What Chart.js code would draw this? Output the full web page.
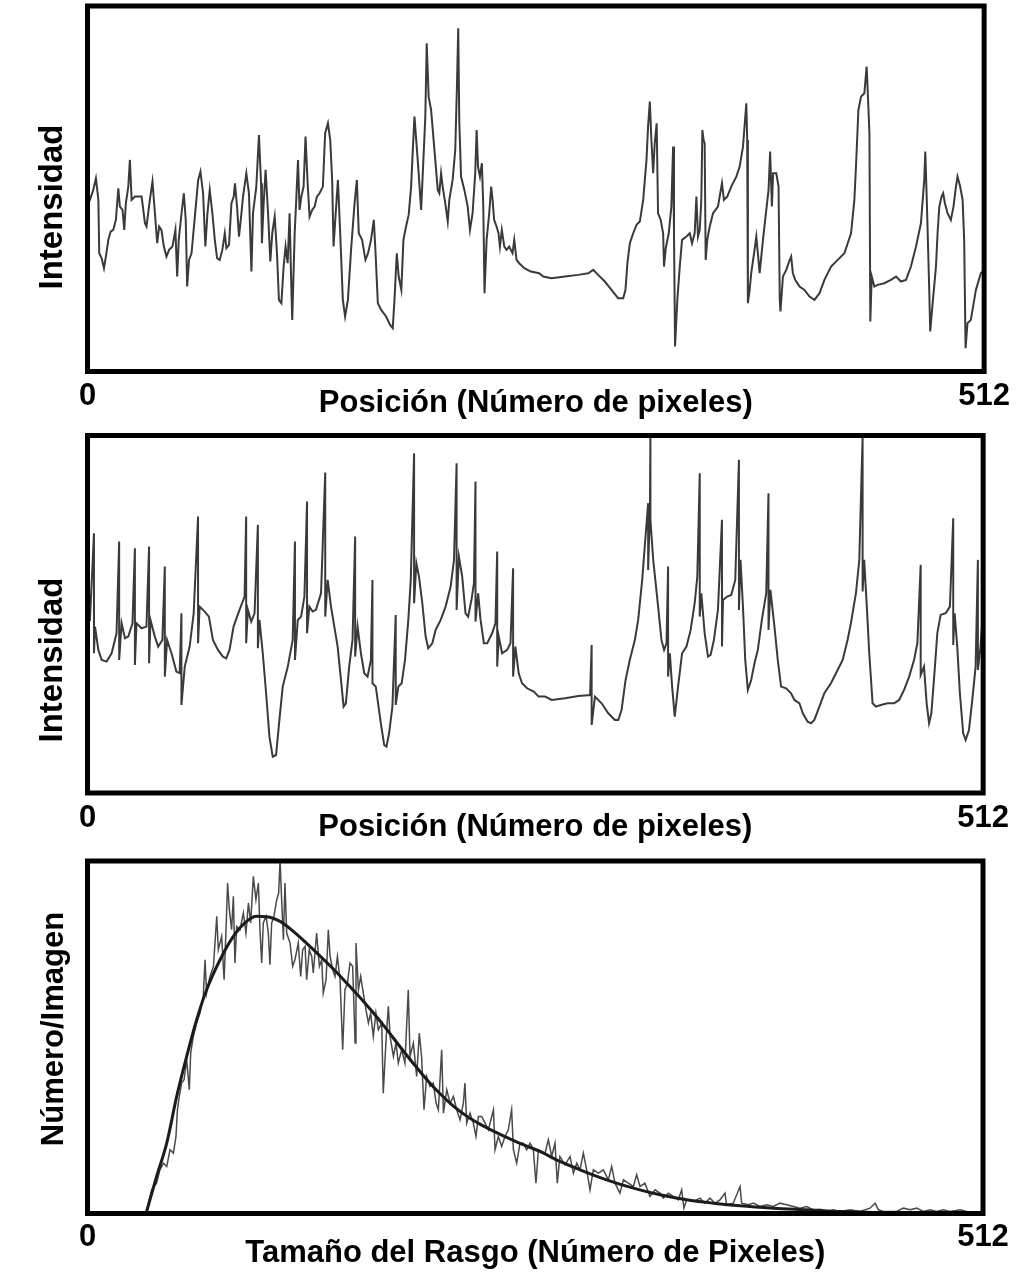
<!DOCTYPE html>
<html>
<head>
<meta charset="utf-8">
<title>Perfiles de intensidad</title>
<script src="https://cdn.jsdelivr.net/npm/chart.js@4.4.1/dist/chart.umd.min.js"></script>
<style>
  html, body { margin: 0; padding: 0; background: #fff; }
  #wrap { position: relative; width: 1016px; height: 1272px; overflow: hidden; }
  #wrap canvas { position: absolute; left: 0; }
</style>
</head>
<body>
<div id="wrap">
  <canvas id="profileTop" width="1016" height="425" style="top:0"></canvas>
  <canvas id="profileMid" width="1016" height="425" style="top:425px"></canvas>
  <canvas id="sizeHist" width="1016" height="422" style="top:850px"></canvas>
</div>
<script>
// x ticks shown on every panel (pixel index range)
const xTicks = [0, 512];

// [position, intensity] – first line profile
const profileA = [
  [0,50],[1.4,51.5],[3.3,54.5],[4.8,58],[6.2,51.5],[6.7,35.5],[8.1,34],[9.4,31],[10.5,34.5],[11.9,39.5],
  [13.2,42],[14.7,42.5],[16.2,45.5],[17.6,55],[18.5,49.5],[20,48.5],[21,42.5],[21.9,50.5],[23.3,55.5],[24.2,63.5],
  [25.2,51.5],[27.1,52.5],[30.9,52.5],[32.8,44.5],[33.7,43.5],[35.6,51.5],[37.1,57],[38.5,47.5],[39.8,38.5],[40.9,43.5],
  [42.2,42.5],[43.6,37.5],[45.1,34.5],[46.6,36.5],[48.5,37.5],[50.2,42.5],[51.2,28.5],[52.1,39.5],[53.7,47.5],[55,53.5],
  [56.1,45.5],[56.9,25.5],[58,33.5],[59.4,35.5],[61.3,46.5],[63.2,57.5],[64.5,60],[66,53.5],[67.3,37.5],[68.5,47.5],
  [69.8,54.5],[71.3,47.5],[72.7,39.5],[74,34],[75.5,33.5],[77,36.5],[78.4,41.5],[79.3,37],[80.8,38],[82.2,50.5],
  [83.5,52.5],[84.2,56.5],[85.4,49.5],[86.5,40.5],[87.9,47.5],[88.8,52.5],[90.7,59.5],[92.2,53.5],[93.6,30],[94.5,47.5],
  [96.4,55.5],[97.9,71],[99.1,56.5],[99.6,38.5],[100.6,50.5],[101.7,60.5],[103.1,47.5],[104.4,33],[105.5,41.5],[106.9,46.5],
  [108.2,35.5],[109.3,21.5],[110.7,20.5],[112,31.5],[113.1,37.5],[114.3,32.5],[115.4,47.5],[116.2,29.5],[116.9,15.5],[118.3,41.5],
  [119.2,51.5],[120.2,63.5],[121.1,48.5],[122.1,52.5],[123.4,55.5],[124.5,70.5],[125.7,56.5],[126.8,46.5],[128.3,48.5],[129.7,49.5],
  [131,52.5],[132.5,53.5],[134.4,55.5],[135.7,71.5],[137.3,74.5],[138.6,69.5],[139.7,57.5],[140.5,37.5],[141.6,46.5],[143,57.5],
  [144.3,41.5],[145.8,21.5],[147.1,16.5],[148.7,21.5],[150.5,36.5],[152.5,50.5],[153.8,57.5],[154.9,41.5],[156.8,39.5],[158.7,33.5],
  [160.2,35.5],[161.9,39.5],[163.5,45.5],[164.4,36.5],[165.8,20.5],[167.7,18.5],[170.5,16.5],[172.8,14],[174.3,13],[175.3,21.5],
  [176.6,35.5],[177.7,28.5],[179.2,24.5],[180.4,39.5],[181.9,43.5],[183.4,47],[184.8,55.5],[185.7,66],[186.7,76.5],[188,67.5],
  [189.1,59.5],[190.5,48.5],[191.8,63.5],[192.9,76.5],[193.7,98.5],[194.8,82.5],[196.2,78.5],[198.1,66.5],[200,54.5],[200.9,53.5],
  [201.9,59.5],[202.8,55.5],[204.3,50.5],[205.7,45],[206.6,51.5],[208.5,57.5],[210,66.5],[211,86.5],[211.7,103],[212.3,75],
  [213.3,58.5],[215.2,54.5],[217.1,49.5],[218.4,42.5],[219.9,47.5],[221.4,59.5],[222.2,72.5],[223,61.5],[224.1,58.5],[225.2,62.5],
  [226,49.5],[226.7,23.5],[227.9,39.5],[229.4,47.5],[230.5,55.5],[231.3,51.5],[232.2,45.5],[233.6,43.5],[234.7,41.5],[235.5,37.5],
  [236.6,42.5],[238,37.5],[239.3,36.5],[240.8,37.5],[242.7,35.5],[243.7,39.5],[245,33.5],[246.5,32.5],[249.4,31],[253.2,30],
  [257.9,29.5],[260.3,28.5],[265,28],[272.6,28.5],[280.2,29],[285.9,29.5],[288.8,30.5],[291.6,29],[295.4,27],[299.2,24.5],
  [303,22],[305.9,22],[307.2,24.5],[308.3,32.5],[309.7,38.5],[311.6,41.5],[313.5,44],[315.4,45],[317.3,51.5],[319.2,63.5],
  [320.1,73.5],[321.1,81],[322,69.5],[323,59.5],[323.9,68.5],[325,74.5],[325.8,47.5],[327.3,45.5],[328.7,41.5],[329.2,31.5],
  [330.2,37],[331.9,41.5],[333.4,49.5],[334.4,67.5],[334.9,41.5],[335.5,7.5],[336.8,21.5],[338.2,31.5],[339.5,39.5],[342,40.5],
  [343.9,41.5],[345.2,38.5],[346.7,41.5],[347.7,52.5],[348.6,40.5],[349.6,42.5],[350.5,51.5],[351.1,72.5],[351.8,69.5],[352.4,68.5],
  [353,33.5],[353.9,39.5],[355.3,43.5],[357.2,47.5],[360,49.5],[362.3,56.5],[363.4,51.5],[365.3,52.5],[367.6,55.5],[370.5,58.5],
  [372.4,61.5],[374.3,67.5],[376.2,80.5],[376.7,69.5],[377.1,20.5],[378.1,24.5],[379,29.5],[380.9,36.5],[381.9,40.5],[382.8,35.5],
  [383.8,29.5],[385.7,39.5],[387.6,48.5],[388.9,54.5],[389.8,66],[390.8,49.5],[391.5,59.5],[393.3,59.5],[394.6,55.5],[395.3,21.5],
  [395.7,18],[397.1,28.5],[399,30.5],[400.3,32.5],[401.8,34.5],[402.8,29.5],[404.1,27.5],[406.6,25.5],[409.4,24.5],[412.3,22.5],
  [415.1,21.5],[418,23.5],[420.8,27.5],[424.6,31.5],[428.4,33.5],[432.2,35.5],[436,41.5],[437.9,51.5],[438.9,62.5],[440.2,78.5],
  [441.7,82.5],[443.6,83.5],[444.9,91.5],[445.5,84.5],[446.5,71.5],[447,15],[447.8,28.5],[449.3,25.5],[451.2,26],[455,26.5],
  [458.8,27.5],[461.7,28.5],[464.5,27],[467.4,27.5],[470.2,31.5],[473.1,37.5],[475.9,44.5],[477.8,57.5],[478.4,66],[479.3,50.5],
  [480.7,23.5],[481.2,12],[482.6,20.5],[484.5,31.5],[485.4,41.5],[486.4,49.5],[487.7,52.5],[488.6,53.5],[489.6,50.5],[491.1,47.5],
  [493,45.5],[494.5,49.5],[495.9,55.5],[496.8,58.5],[498.3,55.5],[499.7,51.5],[500.6,39.5],[501.4,7],[502.5,14.5],[504.4,15.5],
  [507.3,24.5],[510.1,29.5],[512,30.5]
];

// [position, intensity] – second line profile (spikes are a top/bottom pair at one position)
const profileB = [
  [0,52],[1.4,51.9],[3.7,77.9],[3.7,41.9],[4.3,49.9],[6.2,42.9],[8.1,39.9],[10.9,39.4],[13.8,41.9],[16.6,47.9],
  [18.1,75.4],[18.1,39.9],[19.5,50.9],[21.4,46.4],[23.3,46.9],[25.7,50.9],[27.1,73.4],[27.1,38.4],[28,50.9],[30.9,49.4],
  [33.7,49.9],[35.2,73.9],[35.2,38.9],[36,51.9],[38.5,46.9],[40.4,43.9],[42.8,45.9],[44.2,67.9],[44.2,34.9],[45.5,45.9],
  [48,41.9],[50.8,36.4],[52.7,35.9],[53.7,53.9],[53.7,26.4],[55.6,37.9],[58.4,43.9],[60.7,53.9],[63.2,82.9],[63.2,44.9],
  [64.1,55.9],[67,54.4],[69.4,52.9],[71.7,45.9],[74.6,42.9],[77.4,40.9],[79.3,40.4],[81.2,42.9],[83.5,49.9],[86.9,54.9],
  [89.8,58.9],[90.7,82.9],[90.7,44.9],[91.7,54.9],[93.6,51.4],[95.5,53.9],[97.4,80.4],[97.4,43.4],[98.3,51.9],[100.2,41.9],
  [102.1,29.9],[104,16.9],[105.9,10.9],[107.8,11.4],[109.7,21.9],[111.6,31.9],[114.5,37.9],[117.3,45.9],[118.6,75.4],[118.6,39.9],
  [120.2,51.9],[122.1,52.9],[124,58.9],[125.5,87.4],[125.5,47.9],[126.8,55.9],[128.7,54.4],[130.6,54.9],[133.5,59.9],[135.9,96.1],
  [135.9,52.9],[137.3,63.9],[139.2,55.9],[141.1,49.9],[143,43.9],[144.9,33.9],[146.4,25.9],[147.7,26.9],[149.6,37.9],[151.5,45.9],
  [153,76.9],[153,40.9],[154.4,49.9],[156.3,41.9],[158.2,35.9],[160.1,34.9],[162,39.9],[162.9,63.9],[162.9,32.9],[164.8,31.9],
  [167.7,20.9],[169.6,14.4],[170.9,13.9],[172.4,17.9],[174.3,25.9],[176.2,53.4],[176.2,26.4],[177.7,31.9],[179.6,32.9],[181.5,39.9],
  [183.4,51.9],[184.8,63.9],[186.7,101.9],[186.7,56.9],[188,68.9],[189.5,64.9],[191.4,56.9],[193.3,46.9],[194.8,43.4],[197.1,44.9],
  [199,48.9],[201.9,51.9],[204.7,55.9],[207.6,61.9],[209.5,69.9],[211,98.9],[211,54.9],[212.3,70.9],[214.2,64.9],[216.1,53.9],
  [217.6,52.9],[219.5,57.9],[220.9,62.9],[221.8,93.4],[221.8,51.4],[223.3,59.9],[224.7,51.9],[226.6,44.9],[228.5,44.9],[231.3,47.9],
  [233.2,50.9],[234.2,72.4],[234.2,37.9],[235.1,46.9],[237,41.9],[239.9,42.9],[241.8,44.9],[243.3,67.4],[243.3,34.9],[244.6,43.9],
  [246.5,35.9],[248.4,32.9],[251.3,31.4],[255.1,30.4],[257.9,28.9],[261.6,28.9],[265.4,27.9],[273,28.4],[280.6,29.1],[287.3,29.4],
  [288.2,44.4],[288.2,20.4],[290.1,28.9],[293.9,26.9],[297.7,23.9],[301.5,21.9],[303.4,21.9],[305.3,24.9],[307.6,33.9],[310,39.9],
  [312.9,45.9],[314.8,51.9],[317.1,63.9],[319,76.9],[320.5,86.9],[320.5,66.9],[321.5,84.9],[321.8,107],[321.8,81.9],[323.4,69.9],
  [326.2,55.9],[328.1,45.9],[329.6,42.9],[331,44.9],[331.9,67.9],[331.9,34.9],[332.9,41.9],[334.2,31.9],[335.7,22.9],[337.6,31.9],
  [339.9,41.9],[342.4,43.9],[344.8,48.9],[347.1,56.9],[348.6,64.9],[350,95.9],[350,52.9],[350.9,59.9],[352.8,47.9],[354.7,40.9],
  [356.2,41.4],[358.1,45.9],[360.4,54.9],[362.7,81.9],[362.7,43.9],[363.3,57.9],[365.7,58.9],[368,59.4],[370.3,63.9],[372.4,99.9],
  [372.4,54.9],[373.3,69.9],[374.7,55.9],[376,39.9],[377.5,30.9],[379.4,33.9],[381.3,38.9],[383.2,42.9],[385.5,51.9],[388,59.9],
  [389.3,89.9],[389.3,48.9],[390.4,60.9],[392.7,49.9],[394.6,39.9],[396.5,31.9],[399.4,31.4],[402.2,29.9],[404.1,27.9],[407,26.9],
  [408.9,23.9],[411.7,21.4],[413.6,20.9],[415.5,21.9],[418.4,25.9],[421.2,29.9],[425,32.9],[428.8,36.9],[431.7,39.9],[434.5,45.9],
  [436.4,50.9],[439.3,59.9],[441.2,69.9],[443.1,107],[443.1,60.4],[444,69.9],[445.5,55.9],[446.9,41.9],[448.8,26.9],[450.7,25.9],
  [453.5,26.4],[457.3,26.9],[461.1,26.9],[464,27.9],[466.8,30.9],[469.7,34.9],[472.5,39.9],[474.4,44.9],[476.3,68.4],[476.3,35.4],
  [478.2,37.9],[479.7,26.9],[481.1,20.9],[482.4,23.9],[484.3,36.9],[485.8,47.9],[487.7,53.4],[490.6,53.9],[493,55.9],[494.9,82.4],
  [494.9,44.4],[495.7,53.9],[497.2,43.9],[498.7,29.9],[500.6,17.9],[502,15.9],[503.9,18.9],[505.8,27.9],[507.7,37.9],[509,69.9],
  [509,36.9],[510.5,43.9],[512,55]
];

// [feature size, count per image] – measured histogram
const sizeCounts = [
  [33.8,0.6],[36.7,7.1],[39.5,9.1],[41.4,13.1],[43.4,15.1],[45.3,14.1],[47.2,19.1],[49.1,18.1],[50.6,23.1],[51.4,31.1],
  [52.5,35.1],[53.8,39.1],[55.2,40.1],[56.7,46.1],[58.2,37.1],[59,48.1],[60.5,53.1],[62.4,57.1],[64.3,60.1],[66.2,65.1],
  [67.2,76.1],[68.1,66.1],[70,71.1],[72,74.1],[73.9,89.1],[74.8,79.1],[76.7,83.1],[78.1,70.1],[79.2,85.1],[80.1,99.1],
  [81.1,91.1],[82.4,85.1],[83.4,95.1],[84.3,75.1],[85.3,86.1],[87.2,85.1],[89.1,90.1],[90.6,84.1],[92,93.1],[93.3,87.1],
  [94.8,101.1],[96.3,94.1],[97.7,99.1],[98.6,85.1],[99.6,75.1],[100.5,87.1],[102.1,89.1],[103.4,84.1],[104.3,74.6],[105.3,87.1],
  [106.6,89.1],[108.2,94.1],[109.3,96.1],[110.1,106],[111,94.1],[112,82.1],[112.9,99.1],[113.9,84.1],[115.8,81.1],[117.3,74.1],
  [118.6,76.1],[120.5,81.1],[121.9,71.1],[123,79.1],[124.4,80.1],[125.3,70.1],[126.8,79.1],[128.2,77.1],[129.1,72.1],[131,84.1],
  [132.6,74.1],[133.9,76.1],[134.8,66.1],[136.4,70.1],[137.7,85.1],[138.7,77.1],[140.2,73.1],[141.5,71.1],[142.9,77.1],[144.4,70.1],
  [145.9,49.1],[147.2,67.1],[148.6,69.1],[150.1,75.1],[151.6,74.1],[153,51.1],[153.5,81.1],[154.9,67.1],[156.2,71.1],[157.7,66.1],
  [159.2,61.1],[160.6,57.1],[161.9,60.1],[163.4,53.1],[164.9,60.1],[166.3,55.1],[168.2,57.1],[169.1,36.1],[170.7,52.1],[172,62.1],
  [173,53.1],[174.9,47.1],[176.4,51.1],[177.7,45.1],[179.6,49.1],[181.5,45.1],[183.4,67.1],[184.4,47.1],[186.3,51.1],[188.2,41.1],
  [189.7,54.1],[191,47.1],[192.4,31.1],[193.9,41.1],[195.8,38.1],[197.7,39.1],[199.3,33.1],[200.6,31.1],[202.5,49.1],[203.5,30.1],
  [205.4,37.1],[207.3,33.1],[209.2,35.1],[211.1,31.1],[213,28.1],[214.9,33.1],[215.8,39.1],[216.8,27.1],[218.7,30.1],[220.6,27.1],
  [222.1,23.1],[223.5,29.1],[225.4,29.1],[227.3,27.1],[229.2,25.1],[232.1,31.1],[233,19.1],[234.9,23.1],[236.8,20.1],[238.7,23.1],
  [240.6,25.1],[242.5,31.1],[243.5,19.1],[245.4,15.1],[247.3,21.1],[249.2,21.1],[251.1,19.1],[253,21.1],[254.9,19.1],[256.4,9.1],
  [257.8,19.1],[261.6,18.1],[263.5,22.1],[265.4,17.1],[267.3,21.1],[268.6,9.1],[270.1,17.1],[273,14.6],[275.9,17.1],[277.8,12.1],
  [279.7,15.1],[281.6,13.1],[283.5,18.1],[285.4,13.1],[287.3,7.1],[289.2,13.1],[292.1,12.1],[294.9,13.1],[297.8,10.1],[299.7,14.1],
  [301.6,9.1],[304.4,6.1],[306.4,10.1],[309.2,9.1],[312.1,8.1],[314,11.6],[315.9,8.1],[318.7,9.1],[321.6,5.1],[324.5,7.1],
  [327.3,6.1],[329.2,4.6],[332.1,6.1],[334.9,5.1],[337.8,4.1],[339.7,7.1],[341,1.6],[342.6,4.1],[346.4,3.6],[350.2,4.6],
  [353,3.1],[355.9,4.6],[358.8,3.1],[361.6,4.1],[364.5,6.1],[365.4,2.6],[369.2,3.1],[373.1,8.1],[374,3.1],[377.8,2.6],
  [380.7,3.1],[384.5,2.1],[388.3,2.6],[392.1,2.1],[395.9,3.1],[399.7,2.6],[403.6,2.1],[407.4,1.6],[411.2,2.1],[415,1.1],
  [418.8,1.3],[422.6,0.6],[426.4,1.1],[430.2,0.6],[436,1.1],[441.7,0.6],[447.4,1.6],[450.3,3.1],[452.2,1.1],[455,0.6],
  [458.8,0.6],[462.6,0.6],[466.5,1.6],[470.3,1.1],[474.1,1.6],[477.9,0.6],[481.7,1.1],[485.5,0.6],[489.3,1.1],[493.1,0.6],
  [498.9,1.1],[502.7,0.6]
];

// [feature size, count per image] – fitted distribution
const sizeFit = [
  [33.8,0.6],[39.5,11.1],[45.3,21.1],[51,35.1],[56.7,47.1],[62.4,58.1],[68.1,67.1],[75.8,76.1],[83.4,83.1],[91,87.6],
  [96.7,89.1],[102.4,89.0],[110.1,87.6],[117.7,84.6],[125.3,81.0],[133,77.2],[140.6,73.3],[148.2,69.1],[155.8,64.8],[163.4,60.2],
  [171.1,55.2],[178.7,50.0],[186.3,45.0],[193.9,40.2],[201.6,35.9],[209.2,32.2],[216.8,29.2],[224.4,26.8],[232.1,24.7],[239.7,22.8],
  [247.3,21.0],[258.7,18.6],[270.1,15.6],[281.6,13.1],[296.8,10.1],[312.1,7.6],[327.3,5.6],[342.6,4.1],[357.8,3.1],[373.1,2.3],
  [392.1,1.6],[411.2,1.1],[430.2,0.6],[449.3,0.3],[468.4,0.2],[504.6,0.1]
];

const labelFont = { family: '"Liberation Sans", Arial, sans-serif', size: 31, weight: 'bold' };

const toPoints = rows => rows.map(([x, y]) => ({ x, y }));

// thick black box around the plot area
const frame = {
  id: 'frame',
  afterDatasetsDraw(chart) {
    const { ctx, chartArea: a } = chart;
    ctx.save();
    ctx.lineWidth = 5;
    ctx.strokeStyle = '#000';
    ctx.strokeRect(a.left, a.top, a.right - a.left, a.bottom - a.top);
    ctx.restore();
  }
};

// rotated y title, placed freely in the left margin
const yLabel = {
  id: 'yLabel',
  afterDraw(chart, args, opts) {
    const ctx = chart.ctx;
    ctx.save();
    ctx.translate(opts.x, opts.y);
    ctx.rotate(-Math.PI / 2);
    ctx.font = `bold ${opts.size}px "Liberation Sans", Arial, sans-serif`;
    ctx.fillStyle = '#000';
    ctx.textAlign = 'center';
    ctx.textBaseline = 'middle';
    ctx.fillText(opts.text, 0, 0);
    ctx.restore();
  }
};

function makePanel(id, cfg) {
  return new Chart(document.getElementById(id), {
    type: 'line',
    data: { datasets: cfg.datasets },
    options: {
      responsive: false,
      animation: false,
      devicePixelRatio: 1,
      layout: { padding: cfg.padding },
      elements: { point: { radius: 0 }, line: { tension: 0 } },
      plugins: {
        legend: { display: false },
        tooltip: { enabled: false },
        yLabel: cfg.yTitle
      },
      scales: {
        x: {
          type: 'linear',
          min: 0,
          max: 512,
          grid: { display: false, drawTicks: false },
          border: { display: false },
          afterBuildTicks: s => { s.ticks = xTicks.map(v => ({ value: v })); },
          afterFit: s => { s.height = cfg.axisHeight; },
          ticks: { font: labelFont, color: '#000', padding: cfg.tickPad, maxRotation: 0, autoSkip: false },
          title: {
            display: true,
            text: cfg.xTitle,
            font: labelFont,
            color: '#000',
            padding: { top: 0, bottom: cfg.titlePad }
          }
        },
        y: { display: false, min: 0, max: cfg.yMax }
      }
    },
    plugins: [frame, yLabel]
  });
}

makePanel('profileTop', {
  padding: { left: 87.5, right: 28.5, top: 6, bottom: 0 },
  axisHeight: 53.5,
  tickPad: 6,
  titlePad: 3,
  yMax: 109.7,
  xTitle: 'Posición (Número de pixeles)',
  yTitle: { text: 'Intensidad', x: 53, y: 207, size: 33 },
  datasets: [{
    data: toPoints(profileA),
    borderColor: '#3a3a3a',
    borderWidth: 2
  }]
});

makePanel('profileMid', {
  padding: { left: 87.5, right: 30, top: 10.5, bottom: 0 },
  axisHeight: 57,
  tickPad: 7,
  titlePad: 4,
  yMax: 107.2,
  xTitle: 'Posición (Número de pixeles)',
  yTitle: { text: 'Intensidad', x: 53, y: 235, size: 33 },
  datasets: [{
    data: toPoints(profileB),
    borderColor: '#3a3a3a',
    borderWidth: 2
  }]
});

makePanel('sizeHist', {
  padding: { left: 87.5, right: 33, top: 11, bottom: 0 },
  axisHeight: 58.5,
  tickPad: 5,
  titlePad: 0,
  yMax: 105.7,
  xTitle: 'Tamaño del Rasgo (Número de Pixeles)',
  yTitle: { text: 'Número/Imagen', x: 54, y: 179, size: 31 },
  datasets: [
    {
      data: toPoints(sizeFit),
      borderColor: '#1c1c1c',
      borderWidth: 3,
      cubicInterpolationMode: 'monotone'
    },
    {
      data: toPoints(sizeCounts),
      borderColor: '#4a4a4a',
      borderWidth: 1.5
    }
  ]
});
</script>
</body>
</html>
